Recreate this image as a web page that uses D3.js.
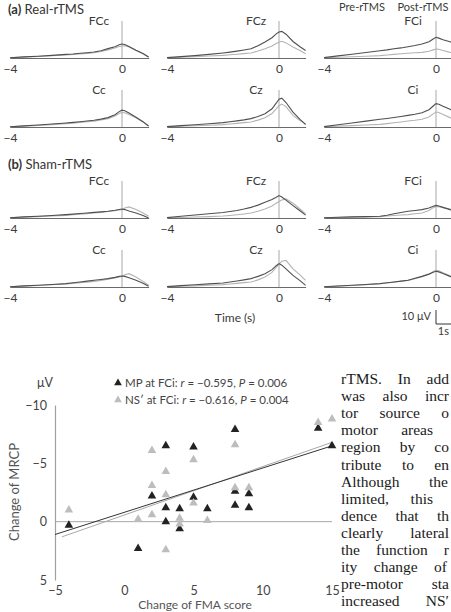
<!DOCTYPE html>
<html><head><meta charset="utf-8">
<script src="https://cdn.jsdelivr.net/npm/d3@7/dist/d3.min.js"></script>
<style>
html,body{margin:0;padding:0;background:#fff;overflow:hidden;}
svg{display:block;}
</style></head>
<body>
<script>
// ---------- ERP data (μV, negative plotted upward) ----------
const times = [-4,-3.5,-3,-2.5,-2,-1.75,-1.5,-1.25,-1,-0.75,-0.5,-0.25,-0.1,0,0.1,0.25,0.5,0.75,0.95];
const electrodes = ["FCc","FCz","FCi","Cc","Cz","Ci"];
const legendLabels = ["Pre-rTMS","Post-rTMS"];

const realPreFCc  = [-0.1,-0.6,-1.1,-1.6,-2.2,-2.5,-2.9,-3.3,-3.8,-4.6,-5.8,-7.1,-8.2,-8.6,-8.7,-7.8,-5.4,-3.0,-0.6];
const realPostFCc = [-0.2,-0.8,-1.3,-1.9,-2.6,-2.9,-3.4,-3.8,-4.3,-5.2,-6.7,-8.1,-9.4,-10.0,-9.6,-8.2,-5.5,-3.2,-0.7];
const realPreFCz  = [-0.1,-0.5,-0.9,-1.4,-1.9,-2.3,-2.7,-3.1,-3.6,-5.0,-6.6,-8.6,-10.4,-11.3,-11.9,-10.8,-7.9,-5.3,-3.1];
const realPostFCz = [-0.3,-1.0,-1.7,-2.6,-3.6,-4.2,-4.9,-5.7,-6.6,-8.8,-11.4,-14.5,-17.2,-18.6,-19.0,-17.0,-11.8,-8.0,-5.4];
const realPreFCi  = [-0.1,-0.5,-0.9,-1.3,-1.7,-2.1,-2.6,-3.0,-3.4,-3.7,-4.0,-4.8,-5.8,-6.4,-6.2,-5.4,-4.0,-3.2,-2.6];
const realPostFCi = [-0.3,-1.5,-2.7,-3.9,-5.2,-5.8,-6.6,-7.2,-8.0,-8.9,-10.0,-11.6,-13.6,-14.8,-14.2,-13.0,-11.6,-10.0,-8.8];
const realPreCc   = [-0.1,-0.6,-1.1,-1.7,-2.4,-2.8,-3.2,-3.7,-4.2,-5.0,-6.0,-7.8,-9.6,-10.3,-10.2,-9.0,-6.6,-3.6,-0.6];
const realPostCc  = [-0.2,-0.8,-1.4,-2.1,-2.9,-3.3,-3.8,-4.3,-4.8,-5.6,-6.7,-8.8,-11.0,-12.0,-11.6,-10.0,-7.0,-3.8,-0.7];
const realPreCz   = [-0.1,-0.5,-0.9,-1.3,-1.7,-2.1,-2.6,-3.1,-3.6,-4.9,-6.6,-9.6,-13.0,-15.2,-16.4,-14.6,-8.3,-4.6,-2.4];
const realPostCz  = [-0.3,-1.0,-1.6,-2.3,-3.1,-3.7,-4.4,-5.1,-6.0,-7.5,-9.5,-13.0,-17.0,-19.8,-20.6,-17.5,-10.7,-5.5,-1.7];
const realPreCi   = [-0.1,-0.6,-1.0,-1.4,-1.9,-2.4,-3.0,-3.6,-4.3,-4.8,-5.5,-7.2,-9.4,-10.7,-10.4,-9.0,-6.7,-5.2,-4.2];
const realPostCi  = [-0.3,-1.6,-2.9,-4.2,-5.5,-6.1,-6.8,-7.5,-8.3,-9.1,-10.2,-12.3,-15.0,-16.7,-16.2,-14.8,-12.6,-10.5,-9.0];

const shamPreFCc  = [-0.1,-0.6,-1.0,-1.4,-1.9,-2.3,-2.7,-3.1,-3.6,-4.0,-4.6,-5.2,-5.7,-6.0,-7.2,-7.9,-6.0,-3.6,-1.2];
const shamPostFCc = [-0.2,-0.8,-1.3,-1.8,-2.4,-2.8,-3.2,-3.6,-4.0,-4.4,-4.8,-5.5,-6.1,-6.4,-6.0,-5.0,-3.6,-1.8,0.0];
const shamPreFCz  = [-0.1,-0.4,-0.7,-1.0,-1.4,-1.8,-2.3,-2.9,-3.6,-4.8,-6.4,-8.6,-10.6,-11.8,-12.8,-13.6,-10.5,-6.4,-2.9];
const shamPostFCz = [-0.3,-1.2,-2.1,-3.0,-3.9,-4.6,-5.4,-6.4,-7.6,-9.2,-11.2,-13.2,-14.8,-16.0,-15.0,-12.8,-8.8,-5.2,-2.1];
const shamPreFCi  = [-0.1,-0.4,-0.6,-0.8,-1.0,-1.4,-1.8,-2.1,-2.4,-3.0,-3.6,-5.4,-7.4,-8.3,-8.1,-7.4,-6.4,-5.2,-4.2];
const shamPostFCi = [-0.2,-0.5,-0.8,-1.0,-1.2,-2.0,-3.0,-3.9,-4.8,-5.4,-6.0,-7.2,-8.4,-9.0,-8.6,-7.6,-6.0,-4.8,-3.8];
const shamPreCc   = [-0.1,-0.6,-1.1,-1.6,-2.1,-2.6,-3.1,-3.5,-4.0,-4.7,-5.5,-6.5,-7.2,-7.6,-8.8,-9.5,-7.1,-4.0,-1.2];
const shamPostCc  = [-0.2,-0.8,-1.3,-1.8,-2.4,-3.0,-3.6,-4.2,-4.8,-5.4,-6.0,-6.9,-7.6,-7.9,-7.6,-6.6,-4.8,-2.6,-0.5];
const shamPreCz   = [-0.1,-0.5,-0.8,-1.2,-1.7,-2.1,-2.6,-3.1,-3.6,-5.1,-7.1,-10.4,-14.0,-16.2,-18.4,-19.0,-13.0,-8.6,-4.8];
const shamPostCz  = [-0.3,-1.0,-1.6,-2.2,-2.9,-3.6,-4.3,-5.1,-6.0,-7.6,-9.5,-12.4,-15.2,-16.7,-15.6,-13.0,-8.3,-4.6,-1.2];
const shamPreCi   = [-0.1,-0.6,-1.1,-1.7,-2.3,-2.9,-3.5,-4.1,-4.7,-6.0,-7.4,-9.2,-11.0,-11.9,-11.6,-10.2,-8.0,-6.4,-5.2];
const shamPostCi  = [-0.2,-0.7,-1.2,-1.8,-2.4,-3.0,-3.6,-4.2,-4.8,-6.2,-7.6,-9.2,-10.6,-11.2,-10.8,-9.6,-7.6,-6.0,-4.8];

// ---------- Scatter data ----------
const mpX  = [-4, 1, 2, 3, 3, 3, 4, 4, 5, 5, 6, 8, 8, 8, 9, 9, 14, 15];
const mpY  = [0.3, 2.3, -2.2, -6.5, -1.2, 0, -1.1, 0.6, -6.4, -2.1, -1.1, -7.9, -2.6, -1.4, -2.4, -1.2, -8.0, -6.5];
const nsX  = [-4, 1, 2, 2, 2, 3, 3, 3, 4, 4, 5, 5, 6, 8, 8, 9, 14, 15];
const nsY  = [-1.0, -0.2, -6.1, -3.1, -0.6, -4.3, -2.3, 2.4, -0.3, 0.2, -5.3, -1.6, -0.1, -6.6, -2.9, -2.9, -8.5, -8.8];
const mpFitX = [-5, 15];
const mpFitY = [1.1, -6.5];
const nsFitX = [-4.5, 15];
const nsFitY = [1.3, -6.8];
const xTicks = [-5, 0, 5, 10, 15];
const yTicks = [-10, -5, 0, 5];

// visible part of the page body text beside the figure
const bodyLines = [
 "rTMS. In add", "was also incr", "tor source o", "motor areas", "region by co",
 "tribute to en", "Although the", "limited, this", "dence that th", "clearly lateral",
 "the function r", "ity change of", "pre-motor sta", "increased NS′"
];
const bodyLineEnds = [449,449,449,433,449,449,448,433,449,449,449,447,449,449];

// ---------- Drawing ----------
const W = 451, H = 612;
const sans = "Lato, 'Open Sans', sans-serif";
const svg = d3.select("body").append("svg").attr("width", W).attr("height", H)
  .style("font-family", sans);
svg.append("rect").attr("width", W).attr("height", H).attr("fill", "#fff");

const txt = "#3a3a3a";
const preColor = "#b3b3b3", postColor = "#505050";

const colX0 = [10, 167, 324];
const rowBase = [58, 127, 218, 287];
const pxPerSec = 28, pxPerUV = 1.4;

const panels = [
  {row:0, col:0, name:"FCc", pre:realPreFCc, post:realPostFCc},
  {row:0, col:1, name:"FCz", pre:realPreFCz, post:realPostFCz},
  {row:0, col:2, name:"FCi", pre:realPreFCi, post:realPostFCi},
  {row:1, col:0, name:"Cc",  pre:realPreCc,  post:realPostCc},
  {row:1, col:1, name:"Cz",  pre:realPreCz,  post:realPostCz},
  {row:1, col:2, name:"Ci",  pre:realPreCi,  post:realPostCi},
  {row:2, col:0, name:"FCc", pre:shamPreFCc, post:shamPostFCc},
  {row:2, col:1, name:"FCz", pre:shamPreFCz, post:shamPostFCz},
  {row:2, col:2, name:"FCi", pre:shamPreFCi, post:shamPostFCi},
  {row:3, col:0, name:"Cc",  pre:shamPreCc,  post:shamPostCc},
  {row:3, col:1, name:"Cz",  pre:shamPreCz,  post:shamPostCz},
  {row:3, col:2, name:"Ci",  pre:shamPreCi,  post:shamPostCi}
];

let lastX, lastY;
panels.forEach(p => {
  const x0 = colX0[p.col], base = rowBase[p.row];
  const x = d3.scaleLinear().domain([-4, 0.95]).range([x0, x0 + 4.95 * pxPerSec]);
  const y = d3.scaleLinear().domain([0, -25]).range([base, base - 25 * pxPerUV]);
  lastX = x; lastY = y;
  const g = svg.append("g");
  g.append("line").attr("x1", x(0)).attr("x2", x(0)).attr("y1", base - 37).attr("y2", base)
    .attr("stroke", "#a8a8a8").attr("stroke-width", 1);
  const line = d3.line().x((d, i) => x(times[i])).y(d => y(d));
  g.append("path").datum(p.pre).attr("d", line).attr("fill", "none")
    .attr("stroke", preColor).attr("stroke-width", 1.1);
  g.append("path").datum(p.post).attr("d", line).attr("fill", "none")
    .attr("stroke", postColor).attr("stroke-width", 1.1);
  const ax = g.append("g").attr("transform", `translate(0,${base})`)
    .call(d3.axisBottom(x).tickValues([-4, 0]).tickSize(0).tickSizeOuter(0).tickPadding(6)
      .tickFormat(d3.format("d")));
  ax.select(".domain").attr("stroke", "#6a6a6a");
  ax.selectAll("text").attr("font-family", sans).attr("font-size", 12).attr("fill", txt);
  g.append("text").attr("x", x(0) - 23).attr("y", base - 33).attr("text-anchor", "middle")
    .attr("font-size", 12).attr("fill", txt).text(p.name);
});

function secLabel(yb, letter, name) {
  const t = svg.append("text").attr("x", 8).attr("y", yb).attr("font-size", 13).attr("fill", "#333");
  t.append("tspan").attr("font-weight", "bold").text(letter);
  t.append("tspan").text(" " + name);
}
secLabel(14, "(a)", "Real-rTMS");
secLabel(169, "(b)", "Sham-rTMS");

// top legend labels (cropped at the top in the source page)
svg.append("text").attr("x", 362).attr("y", 11).attr("text-anchor", "middle").attr("font-size", 11)
  .attr("fill", txt).text(legendLabels[0]);
svg.append("text").attr("x", 423).attr("y", 11).attr("text-anchor", "middle").attr("font-size", 11)
  .attr("fill", txt).text(legendLabels[1]);

svg.append("text").attr("x", 235).attr("y", 322).attr("text-anchor", "middle").attr("font-size", 12)
  .attr("fill", txt).text("Time (s)");

// scale bar
{
  const bx = 436, by = 324;
  const h = lastY(0) - lastY(-10);
  const w = lastX(1) - lastX(0);
  svg.append("path").attr("d", `M${bx},${by - h}V${by}H${bx + w}`).attr("fill", "none")
    .attr("stroke", "#333").attr("stroke-width", 1);
  svg.append("text").attr("x", bx - 5).attr("y", by - 4).attr("text-anchor", "end").attr("font-size", 11)
    .attr("fill", txt).text("10 μV");
  svg.append("text").attr("x", 449).attr("y", by + 11).attr("text-anchor", "end").attr("font-size", 11)
    .attr("fill", txt).text("1s");
}

// ---------- Scatter plot ----------
const sx = d3.scaleLinear().domain([-5, 15]).range([55, 332]);
const sy = d3.scaleLinear().domain([-10, 5]).range([405, 580]);

const yAx = svg.append("g").attr("transform", `translate(${sx(-5)},0)`)
  .call(d3.axisLeft(sy).tickValues(yTicks).tickSize(0).tickSizeOuter(0).tickPadding(8));
yAx.select(".domain").attr("stroke", "#a0a0a0").attr("stroke-width", 1.2);
yAx.selectAll("text").attr("font-family", sans).attr("font-size", 12.5).attr("fill", "#444");

const xAx = svg.append("g").attr("transform", `translate(0,${sy(5)})`)
  .call(d3.axisBottom(sx).tickValues(xTicks).tickSize(0).tickSizeOuter(0).tickPadding(6));
xAx.select(".domain").remove();
xAx.selectAll("text").attr("font-family", sans).attr("font-size", 12.5).attr("fill", "#444");

svg.append("line").attr("x1", sx(-5)).attr("x2", sx(15)).attr("y1", sy(0)).attr("y2", sy(0))
  .attr("stroke", "#a8a8a8").attr("stroke-width", 1);

const fitLine = d3.line().x(d => sx(d[0])).y(d => sy(d[1]));
svg.append("path").datum(nsFitX.map((v, i) => [v, nsFitY[i]])).attr("d", fitLine)
  .attr("fill", "none").attr("stroke", "#a8a8a8").attr("stroke-width", 1);
svg.append("path").datum(mpFitX.map((v, i) => [v, mpFitY[i]])).attr("d", fitLine)
  .attr("fill", "none").attr("stroke", "#333").attr("stroke-width", 1);

const tri = d3.symbol().type(d3.symbolTriangle).size(32);
svg.append("g").selectAll("path").data(mpX.map((v, i) => [v, mpY[i]])).join("path")
  .attr("d", tri).attr("transform", d => `translate(${sx(d[0])},${sy(d[1])})`).attr("fill", "#222");
svg.append("g").selectAll("path").data(nsX.map((v, i) => [v, nsY[i]])).join("path")
  .attr("d", tri).attr("transform", d => `translate(${sx(d[0])},${sy(d[1])})`).attr("fill", "#bdbdbd");

svg.append("text").attr("transform", "translate(19,492) rotate(-90)").attr("text-anchor", "middle")
  .attr("font-size", 13).attr("fill", "#555").text("Change of MRCP");
svg.append("text").attr("x", 195).attr("y", 609).attr("text-anchor", "middle")
  .attr("font-size", 12).attr("fill", "#555").text("Change of FMA score");
svg.append("text").attr("x", 45).attr("y", 387).attr("text-anchor", "middle")
  .attr("font-size", 12.5).attr("fill", "#444").text("μV");

const leg = [
  {c:"#222", label:"MP at FCi: ", r:"−0.595", p:"0.006", y:383},
  {c:"#bdbdbd", label:"NS′ at FCi: ", r:"−0.616", p:"0.004", y:400}
];
leg.forEach(l => {
  svg.append("path").attr("d", d3.symbol().type(d3.symbolTriangle).size(26)())
    .attr("transform", `translate(118,${l.y})`).attr("fill", l.c);
  const t = svg.append("text").attr("x", 125).attr("y", l.y + 4).attr("font-size", 11.5).attr("fill", "#444");
  t.append("tspan").text(l.label);
  t.append("tspan").attr("font-style", "italic").text("r");
  t.append("tspan").text(" = " + l.r + ", ");
  t.append("tspan").attr("font-style", "italic").text("P");
  t.append("tspan").text(" = " + l.p);
});

// body text, justified per line by spreading the word gaps
const serif = "'Liberation Serif', 'DejaVu Serif', serif";
const bodySize = 15.5;
const measure = svg.append("text").attr("font-family", serif).attr("font-size", bodySize).attr("opacity", 0);
bodyLines.forEach((line, i) => {
  const words = line.split(" ");
  const widths = words.map(w => { measure.text(w); return measure.node().getComputedTextLength(); });
  const total = d3.sum(widths);
  const gap = words.length > 1 ? Math.max(4, (bodyLineEnds[i] - 341 - total) / (words.length - 1)) : 0;
  const t = svg.append("text").attr("y", 384 + 17.1 * i).attr("font-family", serif)
    .attr("font-size", bodySize).attr("fill", "#1a1a1a");
  let xpos = 341;
  words.forEach((w, j) => {
    t.append("tspan").attr("x", xpos).text(w);
    xpos += widths[j] + gap;
  });
});
measure.remove();
</script>
</body></html>
